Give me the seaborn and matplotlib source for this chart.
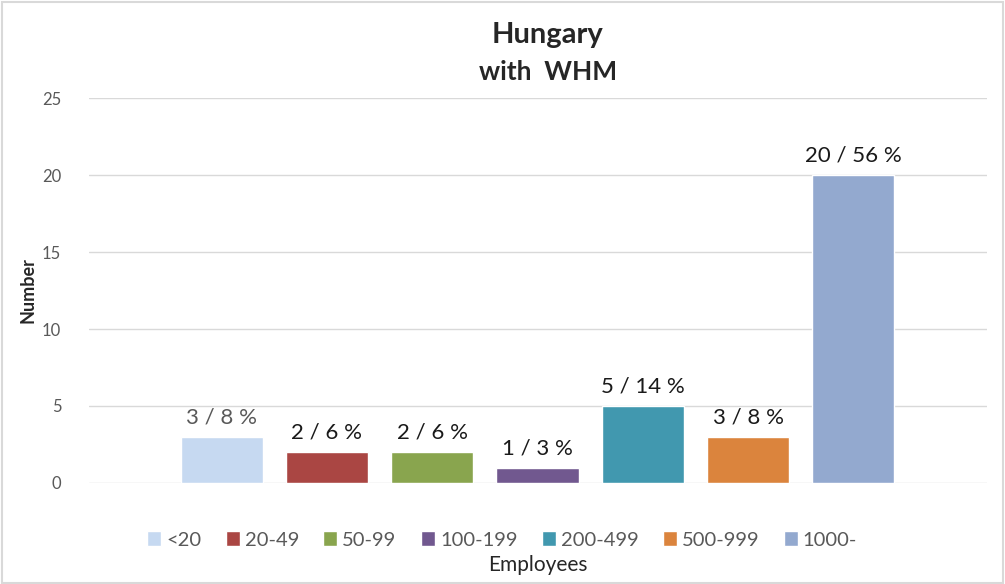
import pandas as pd
import matplotlib.pyplot as plt
import seaborn as sns
from matplotlib.patches import Rectangle

# Datos
grupos = ['<20', '20-49', '50-99', '100-199', '200-499', '500-999', '1000-']
numero = [3, 2, 2, 1, 5, 3, 20]
porcentaje = [8, 6, 6, 3, 14, 8, 56]
colores = ['#C6D9F1', '#AA4643', '#89A54E', '#71588F', '#4198AF', '#DB843D', '#93A9CF']

df = pd.DataFrame({'Employees': grupos, 'Number': numero, 'Pct': porcentaje})

sns.set_style('white')
plt.rcParams['font.family'] = ['Lato', 'DejaVu Sans']

fig = plt.figure(figsize=(10.05, 5.84), dpi=100)
ax = fig.add_axes([0.0886, 0.173, 0.8935, 0.659])

sns.barplot(ax=ax, data=df, x='Employees', y='Number', hue='Employees',
            palette=colores, width=0.78, dodge=False, legend=True, saturation=1)

ax.set_ylim(0, 25)
ax.set_xlim(-1.26, 7.27)
ax.set_yticks(range(0, 26, 5))
ax.tick_params(axis='y', colors='#595959', labelsize=12, length=0, pad=20)
ax.set_xticks([])
ax.grid(axis='y', color='#D9D9D9', linewidth=1)
ax.set_axisbelow(True)
for s in ax.spines.values():
    s.set_visible(False)

# Etiquetas de barras
for i, (n, p) in enumerate(zip(numero, porcentaje)):
    color = '#595959' if i == 0 else '#1a1a1a'
    ax.text(i, n + 0.6, f'{n} / {p} %', ha='center', va='bottom',
            fontsize=16, color=color)

ax.set_ylabel('Number', fontsize=13, fontweight='bold', labelpad=4)
ax.set_xlabel('Employees', fontsize=15, labelpad=52)

ax.legend(loc='center', bbox_to_anchor=(0.46, -0.148), ncol=7, frameon=False,
          fontsize=14.5, handlelength=0.7, handleheight=0.8, handletextpad=0.25,
          columnspacing=1.2, labelcolor='#595959')

fig.text(0.545, 0.94, 'Hungary', ha='center', va='center', fontsize=21, fontweight='bold')
fig.text(0.545, 0.877, 'with  WHM', ha='center', va='center', fontsize=19, fontweight='bold')

# Marco exterior
fig.patches.append(Rectangle((0.002, 0.002), 0.996, 0.994, transform=fig.transFigure,
                             fill=False, edgecolor='#D9D9D9', linewidth=1.5))

fig.savefig('out.png', dpi=100)
